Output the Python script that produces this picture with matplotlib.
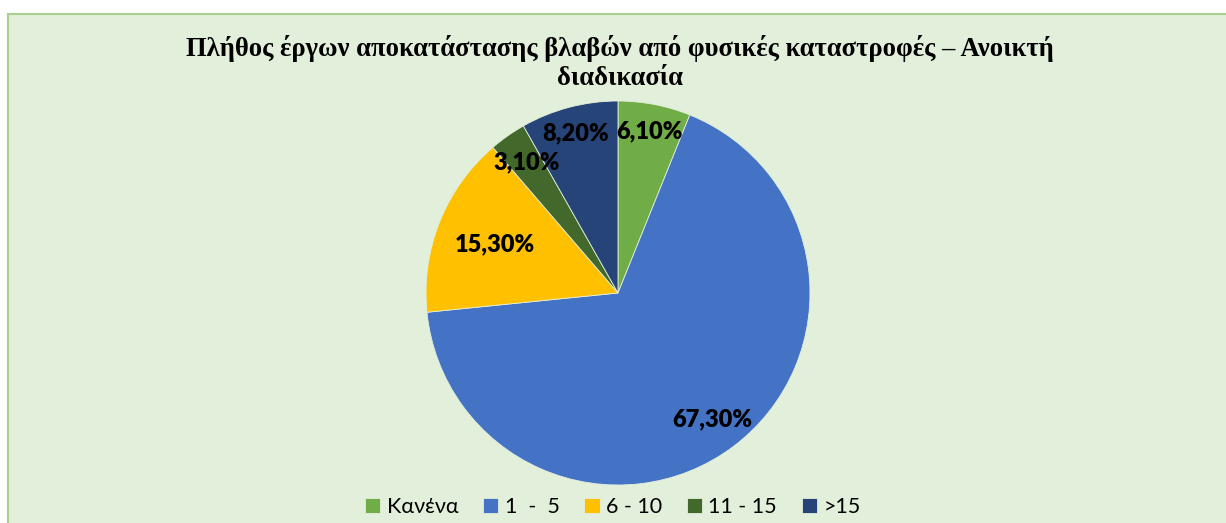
import matplotlib
matplotlib.use("Agg")
import matplotlib.pyplot as plt
from matplotlib.patches import Rectangle
import numpy as np

# data
categories = ["Κανένα", "1  -  5", "6 - 10", "11 - 15", ">15"]
shares = [6.1, 67.3, 15.3, 3.1, 8.2]
colors = ["#70AD47", "#4472C4", "#FFC000", "#43682B", "#264478"]
label_dist = [0.86, 0.82, 0.69, 0.83, 0.86]
title = "Πλήθος έργων αποκατάστασης βλαβών από φυσικές καταστροφές – Ανοικτή\nδιαδικασία"

W, H = 1226, 523
fig = plt.figure(figsize=(W / 100, H / 100), dpi=100)
fig.patch.set_facecolor("white")

# chart area background with border
fig.patches.append(Rectangle((8 / W, -0.05), 1.0, (H - 14) / H + 0.05,
                             transform=fig.transFigure, facecolor="#E2EFDA",
                             edgecolor="#A9D08E", linewidth=1.5, zorder=-5))

cx, cy, r = 618, 293, 192
ax = fig.add_axes([(cx - r) / W, (H - cy - r) / H, 2 * r / W, 2 * r / H])
ax.set_facecolor("none")
ax.set_zorder(2)
wedges, _ = ax.pie(shares, colors=colors, startangle=90, counterclock=False,
                   radius=1, wedgeprops=dict(edgecolor="#E2EFDA", linewidth=0.6))
ax.set_xlim(-1, 1)
ax.set_ylim(-1, 1)
ax.set_aspect("equal")
ax.axis("off")

for w, v, d in zip(wedges, shares, label_dist):
    ang = np.deg2rad((w.theta1 + w.theta2) / 2)
    ax.text(d * np.cos(ang), d * np.sin(ang), f"{v:.2f}".replace(".", ",") + "%",
            ha="center", va="center", fontsize=17, fontweight="heavy",
            family=["Lato", "DejaVu Sans"], color="black")

fig.text(620 / W, 1 - 63 / H, title, ha="center", va="center", fontsize=19.2,
         fontweight="bold", family=["Liberation Serif", "DejaVu Serif"],
         linespacing=1.2)

leg = fig.legend(wedges, categories, loc="center", bbox_to_anchor=(613 / W, 1 - 507 / H),
                 ncol=5, frameon=False, handlelength=0.7, handleheight=0.7,
                 handletextpad=0.3, columnspacing=1.15,
                 prop=dict(family=["Lato", "Noto Sans"], size=15.5))

fig.savefig("out.png", dpi=100, facecolor=fig.get_facecolor())
